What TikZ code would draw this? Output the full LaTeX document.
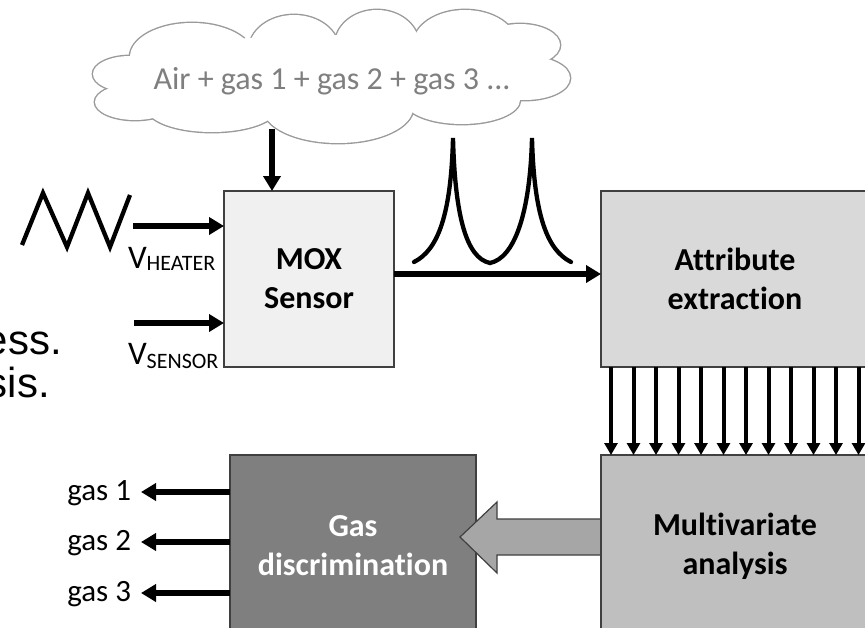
\documentclass[tikz,border=0pt]{standalone}
\usepackage{fontspec}
\setmainfont{Carlito}[Ligatures=NoCommon]
\newfontfamily\arialfont{Liberation Sans}
\usetikzlibrary{arrows.meta,calc}

\definecolor{edgegray}{HTML}{404040}
\definecolor{cloudline}{HTML}{9A9A9A}
\definecolor{cloudtext}{HTML}{7F7F7F}
\definecolor{moxfill}{HTML}{F0F0F0}
\definecolor{attrfill}{HTML}{D9D9D9}
\definecolor{multifill}{HTML}{BFBFBF}
\definecolor{gasfill}{HTML}{7F7F7F}
\definecolor{flowfill}{HTML}{A6A6A6}

\begin{document}
\begin{tikzpicture}[x=1pt,y=-1pt,
  block/.style={draw=edgegray,line width=1.3pt,inner sep=0pt,outer sep=0pt,
    align=center,font=\fontsize{32}{39}\selectfont\bfseries},
  thickarrow/.style={line width=5.5pt,-{Triangle[length=15pt,width=17pt]}},
  fanarrow/.style={line width=4pt,-{Triangle[length=12pt,width=13pt]}},
  signal/.style={line width=4.3pt,line cap=round},
  flow/.style={draw=edgegray,fill=flowfill,line width=1.2pt},
  puff/.style={draw=cloudline,line width=2.8pt},
  label/.style={inner sep=0pt,outer sep=0pt}
]
% page
\fill[white] (0,0) rectangle (865,627);
\clip (0,0) rectangle (865,627);

% text running in from the left
\node[label,anchor=base east,font=\arialfont\fontsize{42}{42}\selectfont] (txtA) at (62,354) {ess.};
\node[label,anchor=base east,font=\arialfont\fontsize{42}{42}\selectfont] (txtB) at (50,397) {sis.};

% gas mixture cloud: outline of overlapping puffs
\foreach \cx/\cy/\rx/\ry in {130/74/37/18, 135/102/40/18, 212/108/65/24, 338/108/75/35,
    462/100/58/24, 525/78/45/22, 520/45/40/21, 465/45/52/35, 377/45/42/35,
    294/50/45/35, 192/57/62/34}
  \draw[puff] (\cx,\cy) ellipse [x radius=\rx, y radius=\ry];
\foreach \cx/\cy/\rx/\ry in {130/74/37/18, 135/102/40/18, 212/108/65/24, 338/108/75/35,
    462/100/58/24, 525/78/45/22, 520/45/40/21, 465/45/52/35, 377/45/42/35,
    294/50/45/35, 192/57/62/34, 330/75/215/40}
  \fill[white] (\cx,\cy) ellipse [x radius=\rx, y radius=\ry];
\node[label,anchor=base,text=cloudtext,font=\fontsize{32}{32}\selectfont] (mix) at (332,89)
  {Air + gas 1 + gas 2 + gas 3 ...};
\coordinate (cloudbase) at (272,129);

% blocks
\node[block,fill=moxfill,minimum width=170pt,minimum height=176pt] (mox) at (309,279) {MOX\\Sensor};
\node[block,fill=attrfill,minimum width=268pt,minimum height=176pt] (attr) at (735,279) {Attribute\\extraction};
\node[block,fill=gasfill,text=white,minimum width=246pt,minimum height=182pt] (gas) at (353,546) {Gas\\discrimination};

% wide arrow from analysis to discrimination
\coordinate (flowtail) at (602,537);
\coordinate (flowtip) at (460,537);
\draw[flow] ($(flowtail)+(0,-18)$) -- ($(flowtip)+(37,-18)$) -- ($(flowtip)+(37,-35)$)
  -- (flowtip) -- ($(flowtip)+(37,36)$) -- ($(flowtip)+(37,18)$) -- ($(flowtail)+(0,18)$) -- cycle;

\node[block,fill=multifill,minimum width=268pt,minimum height=182pt] (multi) at (735,546) {Multivariate\\analysis};

% sensor inputs
\draw[thickarrow,line width=6pt] (cloudbase) -- (mox.north -| cloudbase);
\coordinate (heatin) at (133,226);
\coordinate (sensin) at (134,323);
\draw[thickarrow] (heatin) -- (mox.west |- heatin);
\draw[thickarrow] (sensin) -- (mox.west |- sensin);
\node[label,anchor=base west] (vheat) at (128,268)
  {\fontsize{33}{33}\selectfont V\raisebox{-2pt}{\fontsize{22}{22}\selectfont HEATER}};
\node[label,anchor=base west] (vsens) at (128,364)
  {\fontsize{33}{33}\selectfont V\raisebox{-4pt}{\fontsize{22}{22}\selectfont SENSOR}};

% heater ramp
\draw[signal,line cap=butt] (22,245) -- (43,193) -- (67,247) -- (88,193) -- (110,247) -- (130,195);

% sensor response
\coordinate (sigline) at (0,274);
\draw[thickarrow] (mox.east |- sigline) -- (attr.west |- sigline);
\draw[signal] (414,262) .. controls (438,250) and (451,215) .. (453,138)
  .. controls (455,215) and (466,258) .. (490,263)
  .. controls (514,258) and (530,215) .. (532,138)
  .. controls (534,215) and (547,250) .. (571,262);

% attribute vector
\foreach \i in {0,...,11}
  \draw[fanarrow] ($(attr.south west)+(10+22.5*\i,0)$) -- ($(multi.north west)+(10+22.5*\i,0)$);

% class outputs
\foreach \k/\yy in {1/492, 2/542, 3/593} {
  \coordinate (out\k) at (141,\yy);
  \draw[thickarrow] (gas.west |- out\k) -- (out\k);
  \node[label,anchor=base east,font=\fontsize{31}{31}\selectfont] (glab\k) at (131,\yy+8) {gas \k};
}
\end{tikzpicture}
\end{document}
